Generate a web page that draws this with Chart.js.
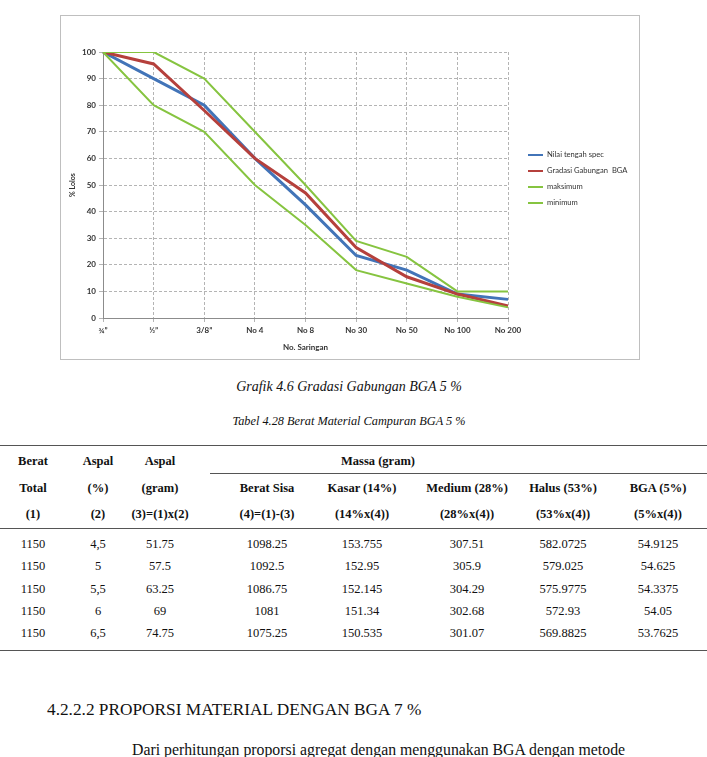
<!DOCTYPE html>
<html>
<head>
<meta charset="utf-8">
<script src="https://cdn.jsdelivr.net/npm/chart.js@4"></script>
<style>
  html, body { margin: 0; padding: 0; background: #fff; }
  body { width: 707px; height: 757px; overflow: hidden; position: relative; font-family: "Liberation Serif", serif; color: #111; }
  #box { position: absolute; left: 60px; top: 15px; width: 580px; height: 345px; border: 1px solid #bfbfbf; box-sizing: border-box; }
  .t { position: absolute; white-space: nowrap; transform: translate(-50%, -50%); font-size: 12.5px; line-height: 1; }
  .b { font-weight: bold; }
  .rule { position: absolute; height: 1px; background: #555; }
  .cap { position: absolute; white-space: nowrap; font-style: italic; transform: translate(-50%, -50%); line-height: 1; }
</style>
</head>
<body>
<div id="box"><canvas id="gradasiChart" width="578" height="343"></canvas></div>

<div class="cap" style="left:349px; top:387px; font-size:14px;">Grafik 4.6 Gradasi Gabungan BGA 5 %</div>
<div class="cap" style="left:349px; top:421px; font-size:12.3px;">Tabel 4.28 Berat Material Campuran BGA 5 %</div>

<div class="rule" style="left:0; top:445px; width:707px;"></div>
<div class="rule" style="left:210px; top:473px; width:497px;"></div>
<div class="rule" style="left:0; top:528px; width:707px;"></div>
<div class="rule" style="left:0; top:650px; width:707px;"></div>
<div id="table"></div>

<div style="position:absolute; left:47px; top:700px; font-size:17.3px; line-height:20px; white-space:nowrap;">4.2.2.2 PROPORSI MATERIAL DENGAN BGA 7 %</div>
<div style="position:absolute; left:132px; top:740px; font-size:15.8px; line-height:20px; white-space:nowrap;">Dari perhitungan proporsi agregat dengan menggunakan BGA dengan metode</div>

<script>
// sieve sizes and % passing
const saringan = ['¾”', '½”', '3/8”', 'No 4', 'No 8', 'No 30', 'No 50', 'No 100', 'No 200']
const nilaiTengah = [100, 90, 80, 60, 42.5, 23.5, 18, 9, 7]
const gradasiBGA = [100, 95.5, 78, 60, 47, 26.5, 15.5, 9, 4.5]
const maksimum = [100, 100, 90, 70, 50, 29, 23, 10, 10]
const minimum = [100, 80, 70, 50, 35, 18, 13, 8, 4]
const yTicks = [0, 10, 20, 30, 40, 50, 60, 70, 80, 90, 100]

// table text
const colX = [33, 98, 160, 267, 362, 467, 563, 658]
const head1 = ['Berat', 'Aspal', 'Aspal']
const head2 = ['Total', '(%)', '(gram)', 'Berat Sisa', 'Kasar (14%)', 'Medium (28%)', 'Halus (53%)', 'BGA (5%)']
const head3 = ['(1)', '(2)', '(3)=(1)x(2)', '(4)=(1)-(3)', '(14%x(4))', '(28%x(4))', '(53%x(4))', '(5%x(4))']
const rows = [
  ['1150', '4,5', '51.75', '1098.25', '153.755', '307.51', '582.0725', '54.9125'],
  ['1150', '5', '57.5', '1092.5', '152.95', '305.9', '579.025', '54.625'],
  ['1150', '5,5', '63.25', '1086.75', '152.145', '304.29', '575.9775', '54.3375'],
  ['1150', '6', '69', '1081', '151.34', '302.68', '572.93', '54.05'],
  ['1150', '6,5', '74.75', '1075.25', '150.535', '301.07', '569.8825', '53.7625']
]
const rowY = [544, 566, 589, 611, 633]

const tbl = document.getElementById('table')
function cell(text, x, y, bold) {
  const d = document.createElement('div')
  d.className = 't' + (bold ? ' b' : '')
  d.style.left = x + 'px'
  d.style.top = y + 'px'
  d.textContent = text
  tbl.appendChild(d)
}
head1.forEach((h, i) => cell(h, colX[i], 461, true))
cell('Massa (gram)', 378, 461, true)
head2.forEach((h, i) => cell(h, colX[i], 488, true))
head3.forEach((h, i) => cell(h, colX[i], 514, true))
rows.forEach((r, j) => r.forEach((v, i) => cell(v, colX[i], rowY[j], false)))

// legend drawn on the right, like the spreadsheet one
const sideLegend = {
  id: 'sideLegend',
  afterDraw(chart) {
    const c = chart.ctx
    c.save()
    c.font = '7.6px Lato'
    c.textBaseline = 'middle'
    chart.data.datasets.forEach((ds, i) => {
      const y = 139 + i * 16
      c.strokeStyle = ds.borderColor
      c.lineWidth = 2
      c.beginPath()
      c.moveTo(467, y)
      c.lineTo(482, y)
      c.stroke()
      c.fillStyle = '#333'
      c.fillText(ds.label, 486, y)
    })
    c.restore()
  }
}

const ctx = document.getElementById('gradasiChart')

new Chart(ctx, {
  type: 'line',
  data: {
    labels: saringan,
    datasets: [
      { label: 'Nilai tengah spec', data: nilaiTengah, borderColor: '#4274b8', borderWidth: 3, order: 4 },
      { label: 'Gradasi Gabungan  BGA', data: gradasiBGA, borderColor: '#b5403c', borderWidth: 3, order: 3 },
      { label: 'maksimum', data: maksimum, borderColor: '#86c440', borderWidth: 2, order: 2 },
      { label: 'minimum', data: minimum, borderColor: '#86c440', borderWidth: 2, order: 1 }
    ]
  },
  options: {
    responsive: false,
    animation: false,
    devicePixelRatio: 1,
    layout: { padding: { top: 36, right: 131, left: 0, bottom: 0 } },
    elements: { point: { radius: 0 }, line: { tension: 0 } },
    plugins: {
      legend: { display: false },
      tooltip: { enabled: false }
    },
    scales: {
      x: {
        offset: false,
        afterFit(s) { s.height = 41 },
        grid: { color: '#b4b4b4', tickLength: 4, tickColor: '#b4b4b4' },
        border: { color: '#8c8c8c', dash: [3, 2] },
        ticks: { color: '#333', font: { family: 'Lato', size: 8, weight: 'bold' }, padding: 4, maxRotation: 0, autoSkip: false },
        title: { display: true, text: 'No. Saringan', color: '#333', font: { family: 'Lato', size: 8, weight: 'bold' }, padding: { top: 0, bottom: 7 } }
      },
      y: {
        min: 0,
        max: 100,
        afterFit(s) { s.width = 42 },
        afterBuildTicks(s) { s.ticks = yTicks.map(v => ({ value: v })) },
        grid: { color: '#b4b4b4', tickLength: 4, tickColor: '#b4b4b4' },
        border: { color: '#8c8c8c', dash: [3, 2] },
        ticks: { color: '#333', font: { family: 'Lato', size: 8, weight: 'bold' }, padding: 3 },
        title: { display: true, text: '% Lolos', color: '#333', font: { family: 'Lato', size: 7, weight: 'bold' }, padding: { top: 8, bottom: 0 } }
      }
    }
  },
  plugins: [sideLegend]
})
</script>
</body>
</html>
